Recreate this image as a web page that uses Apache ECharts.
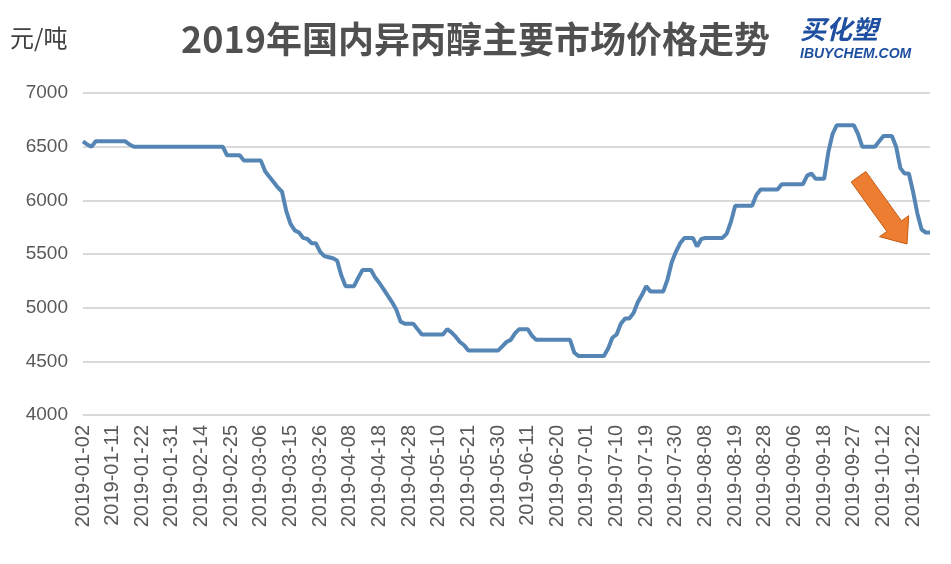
<!DOCTYPE html>
<html>
<head>
<meta charset="utf-8">
<script src="https://cdn.jsdelivr.net/npm/echarts@6/dist/echarts.min.js"></script>
<style>
html,body{margin:0;padding:0;background:#fff;}
#chart{width:951px;height:564px;}
</style>
</head>
<body>
<div id="chart"></div>
<script>
// Trading days of 2019 per month (category axis)
const tradingDays = [
  ['01', '02 03 04 07 08 09 10 11 14 15 16 17 18 21 22 23 24 25 28 29 30 31'],
  ['02', '01 02 03 11 12 13 14 15 18 19 20 21 22 25 26 27 28'],
  ['03', '01 04 05 06 07 08 11 12 13 14 15 18 19 20 21 22 25 26 27 28 29'],
  ['04', '01 02 03 08 09 10 11 15 16 17 18 19 22 23 24 25 26 28 29 30'],
  ['05', '06 07 08 09 10 13 14 15 16 17 20 21 22 23 24 27 28 29 30 31'],
  ['06', '03 04 05 06 10 11 12 13 14 17 18 19 20 21 24 25 26 27 28'],
  ['07', '01 02 03 04 05 08 09 10 11 12 15 16 17 18 19 22 23 24 25 26 29 30 31'],
  ['08', '01 02 05 06 07 08 09 12 13 14 15 16 19 20 21 22 23 26 27 28 29 30'],
  ['09', '02 03 04 05 06 09 10 11 12 16 17 18 19 20 23 24 25 26 27 29 30'],
  ['10', '08 09 10 11 12 14 15 16 17 18 21 22 23 24 25 28']
];
const dates = [];
tradingDays.forEach(([m, days]) => {
  days.split(' ').forEach(d => dates.push('2019-' + m + '-' + d));
});

// Price (元/吨), one value per trading day
const prices = [
  6550,6520,6500,6550,6550,6550,6550,6550,6550,6550,
  6550,6520,6500,6500,6500,6500,6500,6500,6500,6500,
  6500,6500,6500,6500,6500,6500,6500,6500,6500,6500,
  6500,6500,6500,6500,6420,6420,6420,6420,6370,6370,
  6370,6370,6370,6270,6220,6170,6120,6080,5900,5780,
  5720,5700,5650,5640,5600,5600,5520,5480,5470,5460,
  5440,5300,5200,5200,5200,5280,5350,5350,5350,5280,
  5230,5170,5110,5050,4980,4870,4850,4850,4850,4800,
  4750,4750,4750,4750,4750,4750,4800,4770,4730,4680,
  4650,4600,4600,4600,4600,4600,4600,4600,4600,4640,
  4680,4700,4760,4800,4800,4800,4740,4700,4700,4700,
  4700,4700,4700,4700,4700,4700,4580,4550,4550,4550,
  4550,4550,4550,4550,4620,4720,4750,4850,4900,4900,
  4950,5050,5120,5200,5150,5150,5150,5150,5260,5420,
  5520,5600,5650,5650,5650,5570,5640,5650,5650,5650,
  5650,5650,5690,5800,5950,5950,5950,5950,5950,6050,
  6100,6100,6100,6100,6100,6150,6150,6150,6150,6150,
  6150,6230,6250,6200,6200,6200,6450,6620,6700,6700,
  6700,6700,6700,6620,6500,6500,6500,6500,6550,6600,
  6600,6600,6500,6300,6250,6250,6080,5880,5730,5700,
  5700
];

const yMin = 4000, yMax = 7000, yStep = 500;
const titleText = '2019年国内异丙醇主要市场价格走势';
const unitText = '元/吨';

// decorative arrow (annotation)
const S = [858.5, 176.7], T = [907, 244];
const dx = T[0]-S[0], dy = T[1]-S[1], L = Math.hypot(dx, dy);
const ux = dx/L, uy = dy/L, px = -uy, py = ux;
const headLen = 22, shaftW = 9, headW = 18;
const B = [T[0]-headLen*ux, T[1]-headLen*uy];
const arrowPts = [
  [S[0]-shaftW*px, S[1]-shaftW*py],
  [B[0]-shaftW*px, B[1]-shaftW*py],
  [B[0]-headW*px, B[1]-headW*py],
  T,
  [B[0]+headW*px, B[1]+headW*py],
  [B[0]+shaftW*px, B[1]+shaftW*py],
  [S[0]+shaftW*px, S[1]+shaftW*py]
];

const chart = echarts.init(document.getElementById('chart'));
chart.setOption({
  backgroundColor: '#ffffff',
  animation: false,
  title: {
    text: titleText,
    left: 'center',
    top: 16,
    textStyle: {
      fontFamily: 'Noto Sans CJK SC',
      fontSize: 36,
      fontWeight: 'bold',
      color: '#505050'
    }
  },
  graphic: [
    {
      type: 'text', left: 10, top: 26,
      style: { text: unitText, font: '24px "Noto Sans CJK SC"', fill: '#404040' }
    },
    {
      type: 'text', left: 800, top: 16,
      style: { text: '买化塑', font: 'italic bold 26px "Noto Sans CJK SC"', fill: '#1f4fa0' }
    },
    {
      type: 'text', left: 800, top: 47,
      style: { text: 'IBUYCHEM.COM', font: 'italic bold 14px "Liberation Sans"', fill: '#1f4fa0' }
    },
    {
      type: 'polygon',
      shape: { points: arrowPts },
      style: { fill: '#ED7D31', stroke: '#c55a11', lineWidth: 1 },
      z: 100
    }
  ],
  grid: { left: 83, right: 21, top: 93, bottom: 149, containLabel: false },
  xAxis: {
    type: 'category',
    data: dates,
    boundaryGap: false,
    axisLine: { show: true, lineStyle: { color: '#d9d9d9', width: 1 } },
    axisTick: { show: false },
    axisLabel: {
      interval: 6,
      rotate: 90,
      margin: 10,
      fontFamily: 'Liberation Sans',
      fontSize: 20,
      color: '#595959'
    },
    splitLine: { show: false }
  },
  yAxis: {
    type: 'value',
    min: yMin, max: yMax, interval: yStep,
    axisLine: { show: false },
    axisTick: { show: false },
    axisLabel: {
      margin: 15,
      fontFamily: 'Liberation Sans',
      fontSize: 19,
      color: '#595959',
      formatter: v => String(v)
    },
    splitLine: { lineStyle: { color: '#d9d9d9', width: 2 } }
  },
  series: [{
    type: 'line',
    data: prices,
    showSymbol: false,
    symbol: 'none',
    lineStyle: { color: '#5585b5', width: 4 },
    itemStyle: { color: '#5585b5' }
  }]
});
</script>
</body>
</html>
